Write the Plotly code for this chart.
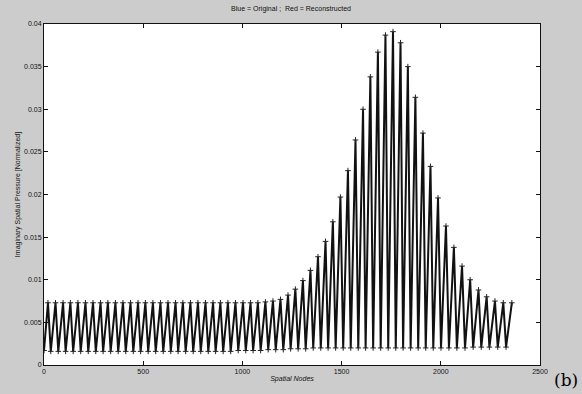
import plotly.graph_objects as go

# Peak positions (spatial node) and peak values
peak_nodes = [20, 58, 96, 133, 171, 209, 247, 285, 322, 360, 398, 436, 474, 511, 549,
              587, 625, 663, 700, 738, 776, 814, 852, 889, 927, 965, 1003, 1041, 1078,
              1116, 1154, 1192, 1230, 1267, 1305, 1343, 1381, 1419, 1456, 1494, 1532,
              1570, 1608, 1645, 1683, 1721, 1759, 1797, 1834, 1872, 1910, 1948, 1986,
              2026, 2066, 2107, 2148, 2190, 2231, 2273, 2315, 2358]
peak_vals = [0.0073, 0.0073, 0.0073, 0.0073, 0.0073, 0.0073, 0.0073, 0.0073, 0.0073,
             0.0073, 0.0073, 0.0073, 0.0073, 0.0073, 0.0073, 0.0073, 0.0073, 0.0073,
             0.0073, 0.0073, 0.0073, 0.0073, 0.0073, 0.0073, 0.0073, 0.0073, 0.0073,
             0.0073, 0.0073, 0.0074, 0.0075, 0.0077, 0.0082, 0.0089, 0.0099, 0.0111,
             0.0127, 0.0145, 0.0168, 0.0197, 0.0228, 0.0264, 0.0300, 0.0338, 0.0367,
             0.0387, 0.0391, 0.0378, 0.0350, 0.0314, 0.0272, 0.0233, 0.0196, 0.0163,
             0.0138, 0.0116, 0.0100, 0.0088, 0.0080, 0.0075, 0.0073, 0.0073]

# Trough positions and values
trough_nodes = [0, 34, 72, 109, 147, 185, 223, 261, 298, 336, 374, 412, 450, 487, 525,
                563, 601, 639, 676, 714, 752, 790, 828, 865, 903, 941, 979, 1017, 1054,
                1092, 1130, 1168, 1206, 1243, 1281, 1319, 1357, 1395, 1432, 1470, 1508,
                1546, 1584, 1621, 1659, 1697, 1735, 1773, 1810, 1848, 1886, 1924, 1962,
                2001, 2041, 2081, 2122, 2163, 2204, 2245, 2287, 2329]
trough_vals = [0.0017, 0.0016, 0.0016, 0.0016, 0.0016, 0.0016, 0.0016, 0.0016, 0.0016,
               0.0016, 0.0016, 0.0016, 0.0016, 0.0016, 0.0016, 0.0016, 0.0016, 0.0016,
               0.0016, 0.0016, 0.0016, 0.0016, 0.0016, 0.0016, 0.0016, 0.0016, 0.0017,
               0.0017, 0.0017, 0.0017, 0.0018, 0.0018, 0.0018, 0.0019, 0.0019, 0.0019,
               0.0020, 0.0020, 0.0020, 0.0020, 0.0020, 0.0020, 0.0020, 0.0020, 0.0020,
               0.0020, 0.0020, 0.0020, 0.0020, 0.0020, 0.0020, 0.0020, 0.0020, 0.0020,
               0.0020, 0.0020, 0.0020, 0.0021, 0.0021, 0.0021, 0.0021, 0.0021]

x_ticks = [0, 500, 1000, 1500, 2000, 2500]
x_tick_labels = ["0", "500", "1000", "1500", "2000", "2500"]
y_ticks = [0, 0.005, 0.01, 0.015, 0.02, 0.025, 0.03, 0.035, 0.04]
y_tick_labels = ["0", "0.005", "0.01", "0.015", "0.02", "0.025", "0.03", "0.035", "0.04"]

xs, ys = [], []
for tn, tv, pn, pv in zip(trough_nodes, trough_vals, peak_nodes, peak_vals):
    xs += [tn, pn]
    ys += [tv, pv]

fig = go.Figure()
fig.add_trace(go.Scatter(x=xs, y=ys, mode="lines", name="Original",
                         line=dict(color="#111111", width=2)))
fig.add_trace(go.Scatter(x=xs, y=ys, mode="markers", name="Reconstructed",
                         marker=dict(symbol="cross-thin", size=4,
                                     line=dict(color="#222222", width=1))))

font = dict(family="Liberation Sans, Arial, sans-serif", size=7, color="#111111")

fig.update_layout(
    width=582, height=394,
    margin=dict(l=44, r=42, t=24, b=29),
    paper_bgcolor="#cccccc",
    plot_bgcolor="#ffffff",
    showlegend=False,
    font=font,
    title=dict(text="Blue = Original ;  Red = Reconstructed", x=0.5, xanchor="center",
               y=0.985, yanchor="top", font=dict(size=7, family=font["family"], color="#111111")),
    xaxis=dict(range=[0, 2500], tickvals=x_ticks, ticktext=x_tick_labels,
               ticks="inside", ticklen=4, tickcolor="#111111", showgrid=False,
               zeroline=False, showline=True, linecolor="#111111", linewidth=1,
               mirror="ticks", tickfont=font,
               title=dict(text="<i>Spatial Nodes</i>", standoff=1, font=font)),
    yaxis=dict(range=[0, 0.04], tickvals=y_ticks, ticktext=y_tick_labels,
               ticks="inside", ticklen=4, tickcolor="#111111", showgrid=False,
               zeroline=False, showline=True, linecolor="#111111", linewidth=1,
               mirror="ticks", tickfont=font,
               title=dict(text="Imaginary Spatial Pressure [Normalized]", standoff=2,
                          font=font)),
)

fig.add_annotation(text="(b)", xref="paper", yref="paper", x=1.08, y=-0.08,
                   xanchor="right", yanchor="bottom", showarrow=False,
                   font=dict(family="DejaVu Serif, serif", size=17, color="#000000"))

fig.write_html("out.html", config={"displayModeBar": False},
               post_script="document.body.style.margin='0';document.body.style.overflow='hidden';")
